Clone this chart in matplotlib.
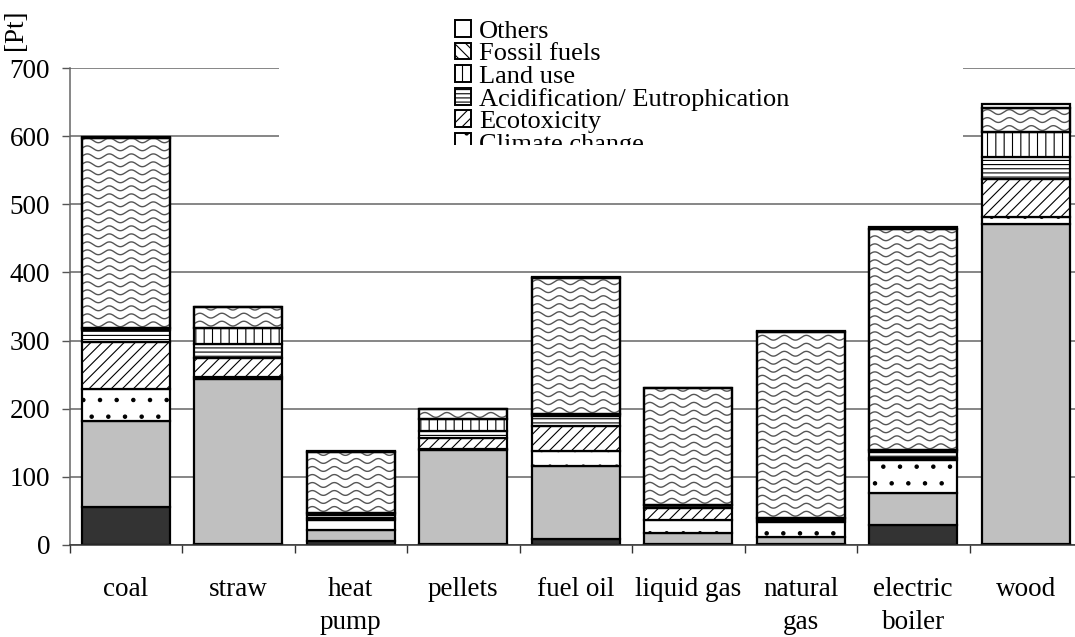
import numpy as np
import matplotlib
matplotlib.use("Agg")
import matplotlib.pyplot as plt
from matplotlib.patches import Patch, Rectangle

plt.rcParams['font.family'] = ['Liberation Serif', 'DejaVu Serif']
plt.rcParams['hatch.linewidth'] = 0.8

# data (Pt)
categories = ['coal', 'straw', 'heat\npump', 'pellets', 'fuel oil', 'liquid gas',
              'natural\ngas', 'electric\nboiler', 'wood']
carcinogens = [56, 1, 6, 1, 9, 1, 1, 30, 1]
respiratory = [126, 243, 16, 138, 107, 17, 11, 47, 470]
climate = [47, 3, 14, 2, 22, 18, 22, 48, 11]
ecotox = [69, 28, 3, 16, 36, 18, 2, 3, 55]
acidification = [17, 20, 5, 11, 16, 4, 3, 8, 32]
land_use = [3, 24, 3, 17, 2, 1, 1, 3, 37]
fossil = [280, 30, 90, 14, 200, 171, 272, 324, 35]
others = [1, 1, 1, 1, 2, 1, 2, 3, 6]

series = [
    ('Carcinogens', carcinogens, '#333333', ''),
    ('Respiratory inorganics', respiratory, '#c0c0c0', ''),
    ('Climate change', climate, 'white', '.'),
    ('Ecotoxicity', ecotox, 'white', '///'),
    ('Acidification/ Eutrophication', acidification, 'white', '----'),
    ('Land use', land_use, 'white', '||'),
    ('Fossil fuels', fossil, 'white', ''),
    ('Others', others, 'white', ''),
]

FS = 19.5
W, H = 1075, 637
fig = plt.figure(figsize=(W / 100, H / 100), dpi=100)
ax = fig.add_axes([69.5 / W, (H - 545) / H, (1082 - 69.5) / W, (545 - 68) / H])

x = np.arange(len(categories))
bw = 0.78
bottom = np.zeros(len(categories))
containers = {}
for name, vals, color, hatch in series:
    bars = ax.bar(x, vals, bw, bottom=bottom, color=color, edgecolor='black',
                  linewidth=1.6, hatch=hatch, zorder=2)
    containers[name] = bars
    bottom += np.array(vals)

# wavy texture for fossil fuels
px_x = 1 / 112.5
px_y = 700 / 477
dy = 8 * px_y
period = 22 * px_x
amp = 2.4 * px_y
for rect in containers['Fossil fuels']:
    x0, y0 = rect.get_x(), rect.get_y()
    w, h = rect.get_width(), rect.get_height()
    xs = np.linspace(x0, x0 + w, 300)
    yr = y0 + dy / 2
    while yr < y0 + h + dy:
        line, = ax.plot(xs, yr + amp * np.sin(2 * np.pi * (xs - x0) / period),
                        color='#555555', lw=1.0, zorder=3)
        line.set_clip_path(rect)
        yr += dy
    ax.add_patch(Rectangle((x0, y0), w, h, fill=False, edgecolor='black',
                           linewidth=1.6, zorder=4))

ax.set_xlim(-0.5, len(categories) - 0.5)
ax.set_ylim(0, 700)
ax.set_yticks(np.arange(0, 701, 100))
ax.set_xticks(x)
ax.set_xticklabels(categories, fontsize=FS, linespacing=1.4, va='top')
ax.set_xticks(np.arange(-0.5, len(categories)), minor=True)
ax.tick_params(axis='x', which='major', length=0, pad=23)
ax.tick_params(axis='x', which='minor', length=6, width=1, color='#333333', direction='out')
ax.tick_params(axis='y', length=6, width=1, color='#555555', labelsize=FS, pad=8)
ax.grid(axis='y', color='#666666', linewidth=1.1, zorder=0)
ax.set_axisbelow(True)
for s in ['top', 'right']:
    ax.spines[s].set_visible(False)
ax.spines['left'].set_color('#666666')
ax.spines['left'].set_linewidth(1.1)
ax.spines['bottom'].set_color('#333333')
ax.spines['bottom'].set_linewidth(1.1)

fig.text(15 / W, 1 - 30 / H, '[Pt]', rotation=90, ha='center', va='center', fontsize=FS)

# white legend area, legend itself, and a cover that cuts it off like the original
fig.patches.append(Rectangle((279 / W, 1 - 145 / H), (963 - 279) / W, 145 / H,
                             transform=fig.transFigure, facecolor='white',
                             edgecolor='none', zorder=1))
handles = []
labels = []
for name, vals, color, hatch in reversed(series):
    h = hatch if name != 'Fossil fuels' else '\\\\\\'
    handles.append(Patch(facecolor=color, edgecolor='black', hatch=h, linewidth=1.4))
    labels.append(name)
leg = fig.legend(handles, labels, loc='upper left', bbox_to_anchor=(455 / W, 1 - 20 / H),
                 frameon=False, fontsize=19, borderpad=0, borderaxespad=0,
                 handlelength=0.6, handleheight=0.6, handletextpad=0.3,
                 labelspacing=-0.005)
leg.set_zorder(5)
fig.patches.append(Rectangle((279 / W, 1 - 202 / H), (963 - 279) / W, 57 / H,
                             transform=fig.transFigure, facecolor='white',
                             edgecolor='none', zorder=6))

fig.savefig('out.png', dpi=100)
